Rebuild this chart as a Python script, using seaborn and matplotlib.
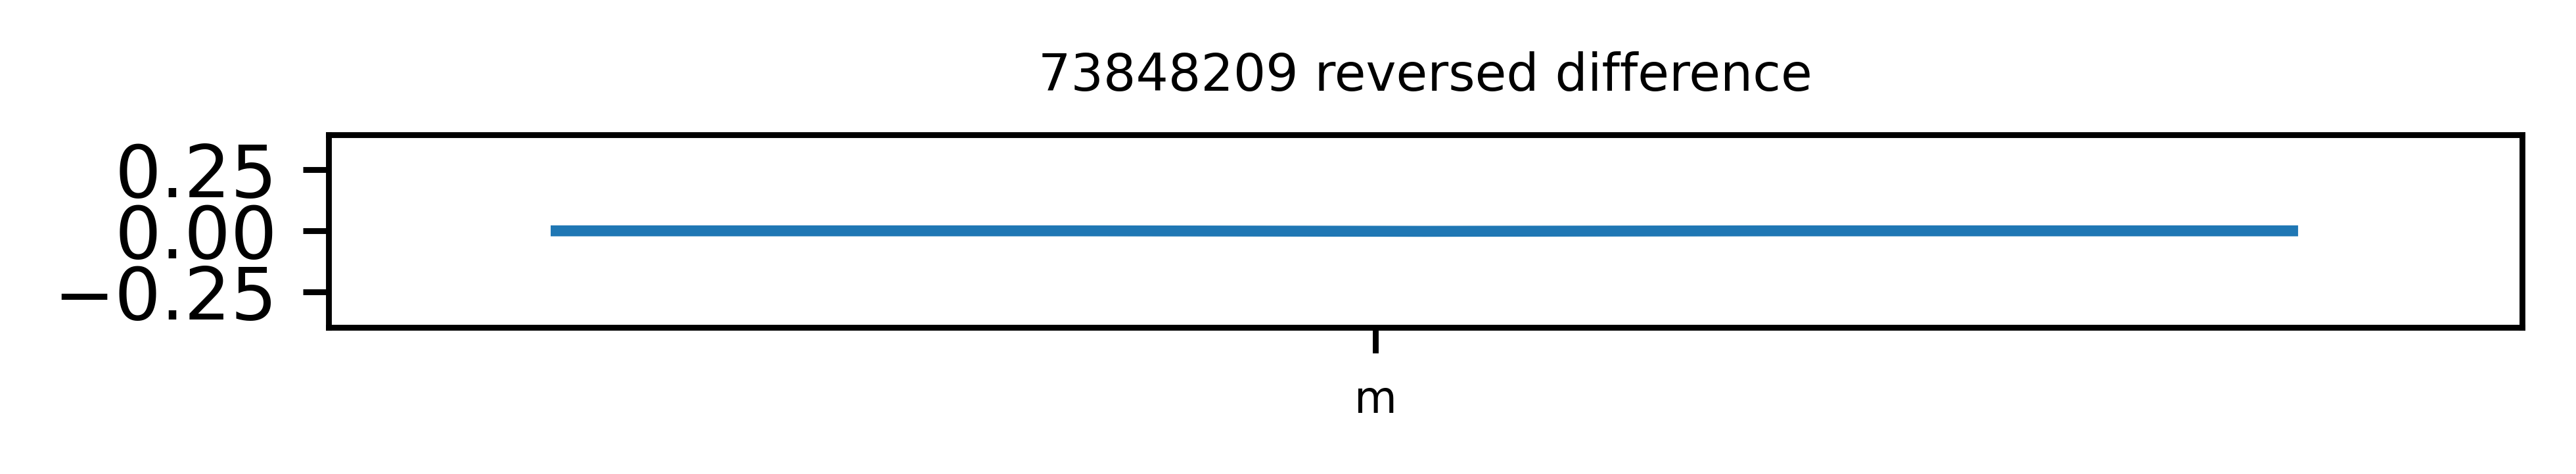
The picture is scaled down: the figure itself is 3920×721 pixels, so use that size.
import matplotlib
matplotlib.use("Agg")
import matplotlib.pyplot as plt
import seaborn as sns
import pandas as pd

# datos (diferencia casi nula en todo el rango)
paso = [0, 1, 2, 3, 4, 5, 6, 7, 8, 9, 10]
diferencia = [0.0, 0.0, 0.0, 0.0, -0.001, -0.002, -0.001, 0.0, 0.0, 0.0, 0.0]
tick_pos = [4.72]
tick_labels = ["m"]
titulo = "73848209 reversed difference"

df = pd.DataFrame({"paso": paso, "diferencia": diferencia})

fig = plt.figure(figsize=(3920 / 800, 721 / 800), dpi=800)
ax = fig.add_axes([500 / 3920, 1 - 498 / 721, (3838 - 500) / 3920, (498 - 205) / 721])

sns.lineplot(data=df, x="paso", y="diferencia", color="#1f77b4", linewidth=1.5, ax=ax,
             solid_capstyle="butt")

ax.set_xlim(-1.271, 11.282)
ax.set_ylim(-0.394, 0.392)
ax.set_yticks([-0.25, 0.0, 0.25])
ax.set_xticks(tick_pos)
ax.set_xticklabels(tick_labels, fontsize=6)
ax.set_xlabel("")
ax.set_ylabel("")
ax.set_title(titulo, fontsize=7)

fig.savefig("out.png", dpi=800)
